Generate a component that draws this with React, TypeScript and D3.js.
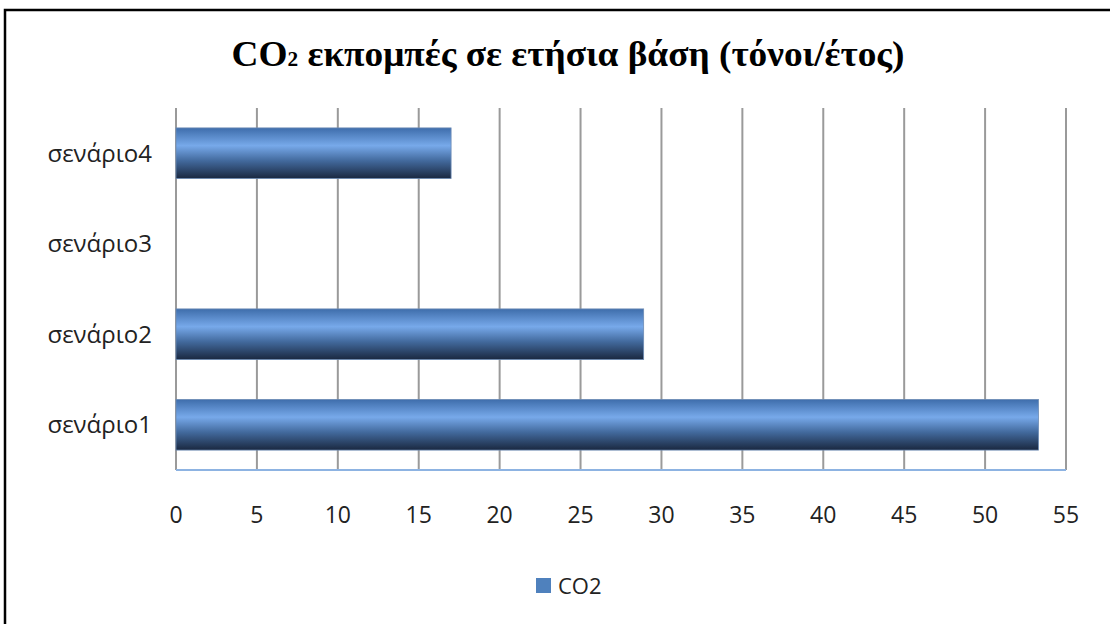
import React from "react";
import * as d3 from "d3";

const categories = ["σενάριο1", "σενάριο2", "σενάριο3", "σενάριο4"];
const co2Values = [53.3, 28.9, 0, 17];
const xTicks = [0, 5, 10, 15, 20, 25, 30, 35, 40, 45, 50, 55];
const seriesName = "CO2";

export default function App() {
  const width = 1110;
  const height = 624;
  const left = 176;
  const right = 1066;
  const top = 108;
  const bottom = 470;

  const x = d3.scaleLinear().domain([0, 55]).range([left, right]);
  // categories listed bottom-to-top
  const y = d3
    .scaleBand<string>()
    .domain([...categories].reverse())
    .range([top, bottom])
    .paddingInner(0.44)
    .paddingOuter(0.22);

  const sans = "'Open Sans', 'Liberation Sans', sans-serif";

  return (
    <svg
      width={width}
      height={height}
      style={{ position: "absolute", left: 0, top: 0, background: "#fff" }}
    >
      <defs>
        <linearGradient id="barGrad" x1="0" y1="0" x2="0" y2="1">
          <stop offset="0%" stopColor="#3e6dab" />
          <stop offset="35%" stopColor="#77a9ea" />
          <stop offset="65%" stopColor="#42699c" />
          <stop offset="100%" stopColor="#1a2840" />
        </linearGradient>
      </defs>
      <rect x={5} y={10} width={1130} height={640} fill="#fff" stroke="#000" strokeWidth={2.5} />

      <text
        x={568}
        y={66}
        textAnchor="middle"
        fontFamily="'Liberation Serif', 'Times New Roman', serif"
        fontWeight="bold"
        fontSize={35}
        fill="#000"
        textLength={673}
        lengthAdjust="spacingAndGlyphs"
      >
        CO<tspan fontSize={20}>2</tspan> εκπομπές σε ετήσια βάση (τόνοι/έτος)
      </text>

      {xTicks.map((t) => (
        <line
          key={"g" + t}
          x1={x(t)}
          x2={x(t)}
          y1={top}
          y2={bottom}
          stroke="#9a9a9a"
          strokeWidth={2}
        />
      ))}
      <line x1={left} x2={right} y1={bottom} y2={bottom} stroke="#8db3e2" strokeWidth={2} />

      {categories.map((c, i) =>
        co2Values[i] > 0 ? (
          <rect
            key={c}
            x={x(0)}
            y={y(c)}
            width={x(co2Values[i]) - x(0)}
            height={y.bandwidth()}
            fill="url(#barGrad)"
            stroke="#6d8cb5"
            strokeWidth={0.8}
          />
        ) : null
      )}

      {categories.map((c) => (
        <text
          key={"l" + c}
          x={152}
          y={(y(c) ?? 0) + y.bandwidth() / 2}
          dy="0.35em"
          textAnchor="end"
          fontFamily={sans}
          fontSize={24}
          fill="#222"
        >
          {c}
        </text>
      ))}

      {xTicks.map((t) => (
        <text
          key={"t" + t}
          x={x(t)}
          y={515}
          dy="0.35em"
          textAnchor="middle"
          fontFamily={sans}
          fontSize={23}
          fill="#222"
        >
          {t}
        </text>
      ))}

      <rect x={536} y={578} width={15} height={15} fill="#4f81bd" />
      <text x={558} y={586} dy="0.35em" fontFamily={sans} fontSize={22} fill="#222">
        {seriesName}
      </text>
    </svg>
  );
}
